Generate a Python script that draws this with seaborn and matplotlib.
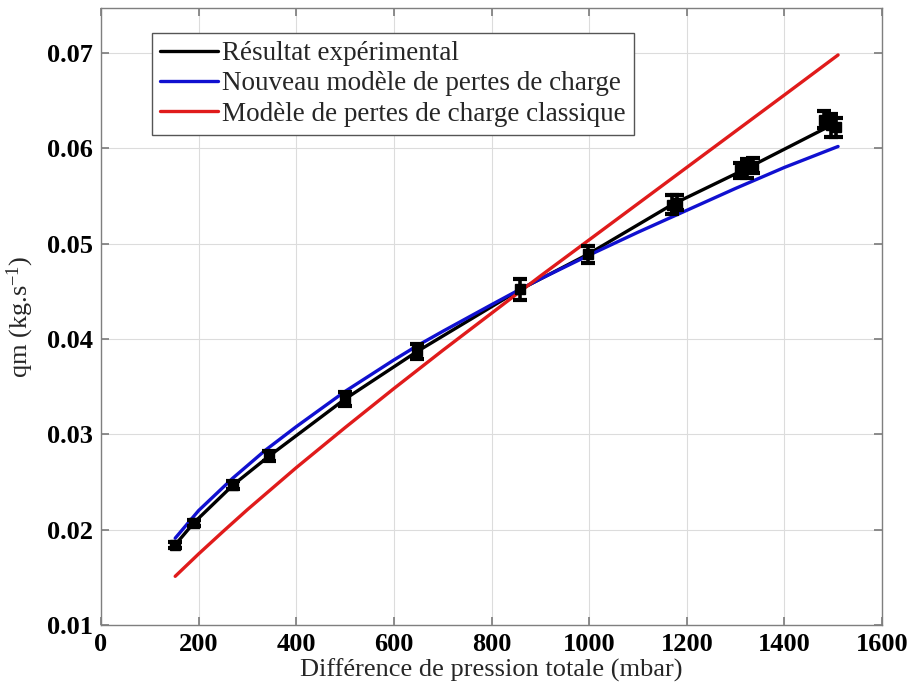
import matplotlib
matplotlib.use("Agg")
import matplotlib.pyplot as plt
import numpy as np
import pandas as pd
import seaborn as sns

# ---- data ----
exp_x = [152, 190, 271, 344, 500, 648, 859, 998, 1170, 1323, 1495]
exp_y = [0.0184, 0.0207, 0.0247, 0.0277, 0.0337, 0.0387, 0.0452, 0.0489, 0.0541, 0.0579, 0.0624]
exp_err = [0.0003, 0.0003, 0.0004, 0.0005, 0.0007, 0.0008, 0.0011, 0.0009, 0.0010, 0.0010, 0.0012]

# repeated measurements (overlapping error bars near the top points)
rep_x = [1180, 1335, 1310, 1482, 1505]
rep_y = [0.0543, 0.0582, 0.0577, 0.0630, 0.0622]
rep_err = [0.0008, 0.0008, 0.0008, 0.0009, 0.0010]

new_x = [152, 200, 270, 336, 400, 500, 600, 648, 700, 800, 858, 900, 1000,
         1100, 1200, 1300, 1400, 1510]
new_y = [0.0191, 0.0220, 0.0254, 0.0283, 0.0308, 0.0345, 0.0378, 0.0393,
         0.0408, 0.0436, 0.0452, 0.0463, 0.0488, 0.0512, 0.0535, 0.0558,
         0.0580, 0.0602]

cls_x = [152, 200, 250, 300, 400, 500, 600, 700, 800, 900, 1000, 1100,
         1200, 1300, 1400, 1510]
cls_y = [0.0151, 0.01745, 0.0198, 0.0221, 0.0265, 0.0307, 0.0348, 0.0388,
         0.0427, 0.0466, 0.0504, 0.0542, 0.0580, 0.0618, 0.0656, 0.0698]

labels = ["Résultat expérimental",
          "Nouveau modèle de pertes de charge",
          "Modèle de pertes de charge classique"]
colors = ["#000000", "#1010d0", "#e01b1b"]

xticks = [0, 200, 400, 600, 800, 1000, 1200, 1400, 1600]
yticks = [0.01, 0.02, 0.03, 0.04, 0.05, 0.06, 0.07]

df = pd.concat([
    pd.DataFrame({"x": exp_x, "y": exp_y, "serie": labels[0]}),
    pd.DataFrame({"x": new_x, "y": new_y, "serie": labels[1]}),
    pd.DataFrame({"x": cls_x, "y": cls_y, "serie": labels[2]}),
], ignore_index=True)

sns.set_theme(style="white")
plt.rcParams["font.family"] = ["Liberation Serif", "DejaVu Serif"]
plt.rcParams["mathtext.fontset"] = "custom"
plt.rcParams["mathtext.rm"] = "Liberation Serif"
plt.rcParams["mathtext.it"] = "Liberation Serif:italic"

FS = 19

fig = plt.figure(figsize=(9.14, 6.89), dpi=100)
ax = fig.add_axes([0.1105, 0.093, 0.8545, 0.895])

sns.lineplot(data=df, x="x", y="y", hue="serie", hue_order=labels,
             palette=dict(zip(labels, colors)), sort=False, estimator=None,
             linewidth=2.4, ax=ax, zorder=3)

ax.errorbar(exp_x, exp_y, yerr=exp_err, fmt="s", color="black",
            markersize=6.5, elinewidth=2.6, capsize=5, capthick=3, zorder=4)
ax.errorbar(rep_x, rep_y, yerr=rep_err, fmt="s", color="black",
            markersize=6.5, elinewidth=2.6, capsize=5, capthick=3, zorder=4)

ax.set_xlim(0, 1600)
ax.set_ylim(0.01, 0.0747)
ax.set_xticks(xticks)
ax.set_xticklabels([str(t) for t in xticks], fontweight="bold")
ax.set_yticks(yticks)
ax.set_yticklabels([f"{t:.2f}" for t in yticks], fontweight="bold")

ax.grid(True, color="#dcdcdc", linewidth=0.8)
for s in ax.spines.values():
    s.set_visible(True)
    s.set_color("#7f7f7f")
    s.set_linewidth(1.0)
ax.tick_params(axis="both", which="both", direction="in", length=6,
               color="#7f7f7f", labelsize=FS, labelcolor="black",
               top=True, right=True, bottom=True, left=True, pad=6)

ax.set_xlabel("Différence de pression totale (mbar)", fontsize=FS, labelpad=2)
ax.set_ylabel(r"qm (kg.s$^{\mathregular{-1}}$)", fontsize=FS, labelpad=8)

handles, lbls = ax.get_legend_handles_labels()
leg = ax.legend(handles[:3], lbls[:3], loc="upper left",
                bbox_to_anchor=(0.065, 0.96), borderaxespad=0,
                fontsize=19.5, frameon=True, fancybox=False,
                handlelength=2.15, handletextpad=0.15, labelspacing=0.2,
                borderpad=0.3)
leg.get_frame().set_edgecolor("#555555")
leg.get_frame().set_linewidth(1.0)
leg.get_frame().set_alpha(1)
for line in leg.get_lines():
    line.set_linewidth(2.4)

fig.savefig("out.png", dpi=100)
